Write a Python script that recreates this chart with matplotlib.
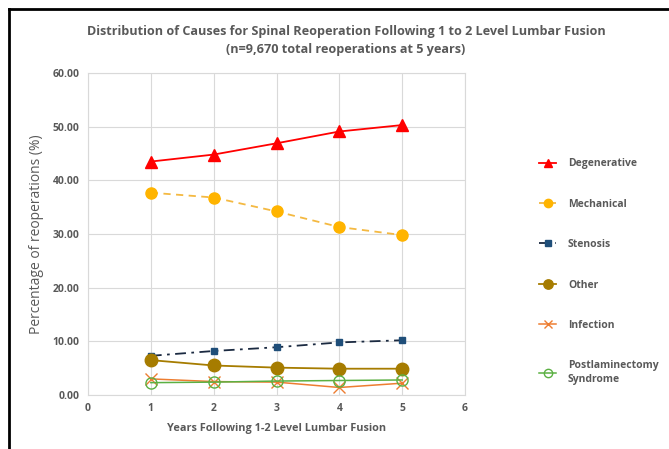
import matplotlib
matplotlib.use("Agg")
import matplotlib.pyplot as plt
from matplotlib.lines import Line2D

years = [1, 2, 3, 4, 5]
degenerative = [43.5, 44.8, 46.9, 49.1, 50.3]
mechanical = [37.7, 36.8, 34.2, 31.3, 29.8]
stenosis = [7.3, 8.2, 8.9, 9.8, 10.2]
other = [6.5, 5.5, 5.1, 4.9, 4.9]
infection = [3.0, 2.5, 2.4, 1.4, 2.2]
postlam = [2.3, 2.4, 2.6, 2.7, 2.8]

title = "Distribution of Causes for Spinal Reoperation Following 1 to 2 Level Lumbar Fusion\n(n=9,670 total reoperations at 5 years)"
xlabel = "Years Following 1-2 Level Lumbar Fusion"
ylabel = "Percentage of reoperations (%)"

plt.rcParams['font.family'] = ['Open Sans', 'DejaVu Sans']
txt = '#595959'

fig = plt.figure(figsize=(6.69, 4.49), dpi=100)
ax = fig.add_axes([88/669, 1-395/449, (465-88)/669, (395-73)/449])

ax.plot(years, degenerative, color='#FF0000', lw=1.3, marker='^', ms=8, label='Degenerative')
ax.plot(years, mechanical, color='#F4B942', lw=1.3, ls=(0, (4, 3)), marker='o', ms=8,
        mfc='#FFB400', mec='#FFB400', label='Mechanical')
ax.plot(years, stenosis, color='#1B2A41', lw=1.3, ls=(0, (6, 3, 1.5, 3)), marker='s', ms=5,
        mfc='#1F4E79', mec='#1F4E79', label='Stenosis')
ax.plot(years, other, color='#A67C00', lw=1.3, marker='o', ms=9, mfc='#A67C00', mec='#A67C00', label='Other')
ax.plot(years, infection, color='#ED7D31', lw=1.1, marker='x', ms=8, mew=1, label='Infection')
ax.plot(years, postlam, color='#5BB043', lw=1.1, marker='o', ms=8, mfc='none', mew=1,
        label='Postlaminectomy\nSyndrome')

ax.set_xlim(0, 6)
ax.set_ylim(0, 60)
ax.set_xticks(range(0, 7))
ax.set_yticks(range(0, 61, 10))
ax.set_yticklabels([f"{v:.2f}" for v in range(0, 61, 10)])
ax.grid(True, color='#D9D9D9', lw=0.8)
ax.set_axisbelow(True)
for s in ax.spines.values():
    s.set_color('#D9D9D9')
    s.set_linewidth(0.8)
ax.tick_params(length=0, labelsize=7.5, colors=txt, pad=6)
for lab in ax.get_xticklabels() + ax.get_yticklabels():
    lab.set_fontweight('bold')
ax.set_xlabel(xlabel, fontsize=7.8, fontweight='bold', color=txt, labelpad=6)
ax.set_ylabel(ylabel, fontsize=10, color=txt, labelpad=6)

fig.text(346/669, 1-40.5/449, title, ha='center', va='center', fontsize=9.1,
         fontweight='bold', color=txt, linespacing=1.45)

leg = fig.legend(loc='upper left', bbox_to_anchor=(530/669, 1-149/449), frameon=False,
                 fontsize=7.5, labelspacing=2.82, handlelength=1.6, handletextpad=1.15,
                 markerscale=0.75, labelcolor=txt)
for t in leg.get_texts():
    t.set_fontweight('bold')
    t.set_linespacing(1.4)

# outer frame lines (top and left)
fig.add_artist(Line2D([9/669, 1], [1-9/449, 1-9/449], color='black', lw=2, transform=fig.transFigure))
fig.add_artist(Line2D([9/669, 9/669], [0, 1-9/449], color='black', lw=2, transform=fig.transFigure))

fig.savefig('out.png', dpi=100, facecolor='white')
